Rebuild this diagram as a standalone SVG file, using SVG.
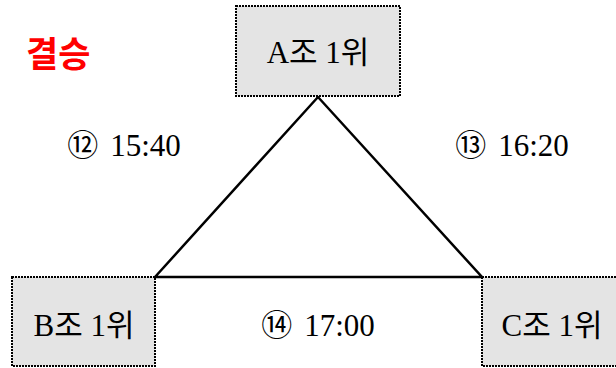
<svg xmlns="http://www.w3.org/2000/svg" width="616" height="368" viewBox="0 0 616 368">
<style>
.box{fill:#e4e4e4;stroke:#000;stroke-width:2;stroke-dasharray:2 1}
.lbl{font-family:"Liberation Serif","Noto Sans CJK KR",serif;font-size:31px;fill:#000;text-anchor:middle}
.edge{fill:none;stroke:#000;stroke-width:2.5}
.title{font-family:"Noto Sans CJK KR",sans-serif;font-size:35px;font-weight:bold;fill:#ff0000}
</style>
<rect width="616" height="368" fill="#fff"/>
<text class="title" x="26" y="67">결승</text>
<g id="connectors">
<polyline class="edge" points="155,277 318,97 482,277 155,277"/>
</g>
<g id="nodeA">
<rect class="box" x="236" y="6" width="164" height="90"/>
<text class="lbl" x="318" y="63">A조 1위</text>
</g>
<g id="nodeB">
<rect class="box" x="12" y="277" width="143" height="89"/>
<text class="lbl" x="84" y="336">B조 1위</text>
</g>
<g id="nodeC">
<rect class="box" x="482" y="277" width="143" height="89"/>
<text class="lbl" x="552" y="336">C조 1위</text>
</g>
<g id="labels">
<text class="lbl" x="124" y="156">⑫<tspan dx="12">15:40</tspan></text>
<text class="lbl" x="512" y="156">⑬<tspan dx="12">16:20</tspan></text>
<text class="lbl" x="318" y="336">⑭<tspan dx="12">17:00</tspan></text>
</g>
</svg>
